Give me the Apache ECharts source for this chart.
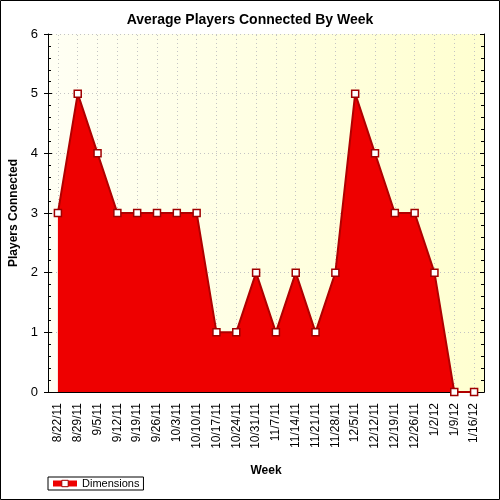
<!DOCTYPE html>
<html><head><meta charset="utf-8">
<script src="https://cdn.jsdelivr.net/npm/echarts@6/dist/echarts.min.js"></script>
<style>html,body{margin:0;padding:0;background:#fff}#c{width:500px;height:500px}</style>
</head><body><div id="c"></div>
<script>
const categories = ['8/22/11','8/29/11','9/5/11','9/12/11','9/19/11','9/26/11','10/3/11','10/10/11','10/17/11','10/24/11','10/31/11','11/7/11','11/14/11','11/21/11','11/28/11','12/5/11','12/12/11','12/19/11','12/26/11','1/2/12','1/9/12','1/16/12'];
const dimensions = [3,5,4,3,3,3,3,3,1,1,2,1,2,1,2,5,4,3,3,2,0,0];
const yTicks = [0,1,2,3,4,5,6];

const chart = echarts.init(document.getElementById('c'), null, {renderer:'canvas'});
const font = 'Arial, "Liberation Sans", sans-serif';
const dotted = {color:'#c4c4c4', width:1, type:[1,3]};
chart.setOption({
  animation:false,
  backgroundColor:'#fff',
  title:{text:'Average Players Connected By Week', left:'center', top:8,
    textStyle:{fontFamily:font, fontSize:14, fontWeight:'bold', color:'#000'}},
  grid:{left:48, right:16, top:34, bottom:108, outerBoundsMode:'none', containLabel:false,
    show:true, borderWidth:0,
    backgroundColor:{type:'linear', x:0, y:0, x2:1, y2:0,
      colorStops:[{offset:0,color:'#fffff4'},{offset:1,color:'#ffffd0'}]}},
  legend:{left:48, top:477, orient:'horizontal', padding:[1,4,1,2],
    borderColor:'#000', borderWidth:1, itemWidth:24, itemHeight:8, itemGap:4,
    lineStyle:{width:6, color:'#ee0000'},
    itemStyle:{color:'#fff', borderColor:'#a00000', borderWidth:1},
    textStyle:{fontFamily:font, fontSize:11, color:'#000'},
    data:['Dimensions']},
  xAxis:[{
    type:'category', data:categories, boundaryGap:true, position:'bottom',
    name:'Week', nameLocation:'middle', nameGap:73,
    nameTextStyle:{fontFamily:font, fontSize:12, fontWeight:'bold', color:'#000'},
    axisLine:{lineStyle:{color:'#000', width:1}},
    axisTick:{alignWithLabel:true, length:6, lineStyle:{color:'#000'}},
    axisLabel:{rotate:90, interval:0, margin:11, fontFamily:font, fontSize:12, color:'#000'},
    splitLine:{show:false}
  },{
    type:'category', data:categories, boundaryGap:true, position:'top',
    axisLine:{lineStyle:{color:'#000', width:1}},
    axisTick:{alignWithLabel:true, inside:true, length:4, lineStyle:{color:'#000'}},
    axisLabel:{show:false}, splitLine:{show:false}
  }],
  yAxis:[{
    type:'value', min:0, max:6, interval:1, position:'left',
    name:'Players Connected', nameLocation:'middle', nameGap:22,
    nameTextStyle:{fontFamily:font, fontSize:12, fontWeight:'bold', color:'#000'},
    axisLine:{show:true, lineStyle:{color:'#000', width:1}},
    axisTick:{show:true, inside:true, length:4, lineStyle:{color:'#000'}},
    minorTick:{show:true, splitNumber:5, length:3, lineStyle:{color:'#000'}},
    axisLabel:{margin:10, fontFamily:font, fontSize:13, color:'#000',
      formatter:v=>yTicks.includes(v)?String(v):''},
    splitLine:{show:true, lineStyle:dotted}
  },{
    type:'value', min:0, max:6, interval:1, position:'left',
    axisLine:{show:false}, axisTick:{show:true, inside:false, length:4, lineStyle:{color:'#000'}},
    axisLabel:{show:false}, splitLine:{show:false}
  },{
    type:'value', min:0, max:6, interval:1, position:'right',
    axisLine:{show:true, lineStyle:{color:'#000', width:1}},
    axisTick:{show:true, inside:true, length:4, lineStyle:{color:'#000'}},
    minorTick:{show:true, splitNumber:5, length:3, lineStyle:{color:'#000'}},
    axisLabel:{show:false}, splitLine:{show:false}
  }],
  series:[{
    name:'grid', type:'line', data:[], xAxisIndex:0, yAxisIndex:0, z:1, silent:true,
    markLine:{silent:true, z:1, symbol:'none', label:{show:false}, animation:false,
      lineStyle:dotted, emphasis:{disabled:true},
      data:categories.map(c=>({xAxis:c}))}
  },{
    name:'Dimensions', type:'line', data:dimensions, z:3,
    xAxisIndex:0, yAxisIndex:0,
    symbol:'rect', symbolSize:7, showAllSymbol:true,
    itemStyle:{color:'#ffffff', borderColor:'#a00000', borderWidth:1.5},
    lineStyle:{color:'#b00000', width:2},
    areaStyle:{color:'#ee0000', opacity:1},
    emphasis:{disabled:true}
  }],
  graphic:[{type:'rect', silent:true, shape:{x:0.5, y:0.5, width:499, height:499},
    style:{fill:null, stroke:'#000', lineWidth:1}}]
});
</script></body></html>
